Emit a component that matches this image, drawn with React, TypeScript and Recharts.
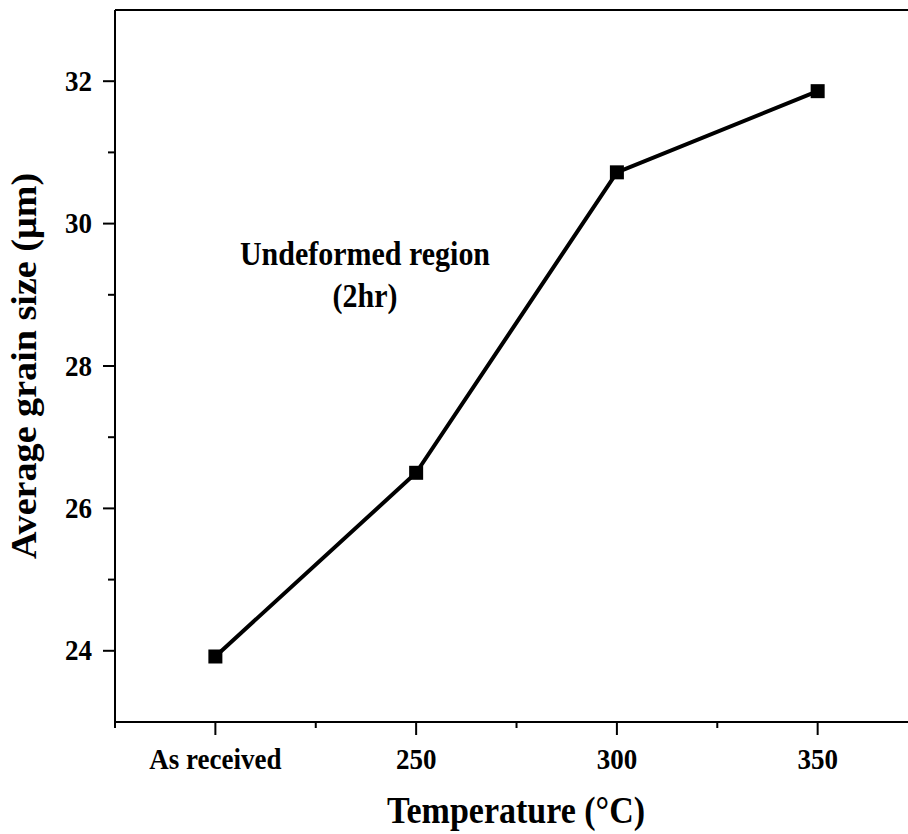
import React from 'react';
import { LineChart, Line, XAxis, YAxis, ReferenceLine, Customized } from 'recharts';

const categories = ['As received', '250', '300', '350'];
const grainSize = [23.92, 26.5, 30.72, 31.86];
const yMajorTicks = [24, 26, 28, 30, 32];
const yAllTicks = [24, 25, 26, 27, 28, 29, 30, 31, 32];
const xAllTicks = [-0.5, 0, 0.5, 1, 1.5, 2, 2.5, 3];
const annotationLines = ['Undeformed region', '(2hr)'];
const xTitle = 'Temperature (°C)';
const yTitle = 'Average grain size (μm)';

const data = categories.map((c, i) => ({ x: i, label: c, value: grainSize[i] }));

const FONT = '"Liberation Serif", "Times New Roman", serif';
const STRETCH = 1.09;

const SText = ({ x, y, size, anchor = 'middle', rotate = 0, children }: any) => (
  <text
    x={0}
    y={0}
    transform={`translate(${x},${y}) scale(1,${STRETCH})${rotate ? ` rotate(${rotate})` : ''}`}
    textAnchor={anchor}
    fontFamily={FONT}
    fontWeight="bold"
    fontSize={size}
    fill="#000"
  >
    {children}
  </text>
);

const XTick = (props: any) => {
  const { x, y, payload } = props;
  const v = payload.value;
  const isMajor = Number.isInteger(v);
  return (
    <g>
      <line x1={x} x2={x} y1={y} y2={y + (isMajor ? 13 : 6)} stroke="#000" strokeWidth={2} />
      {isMajor && v >= 0 && v < categories.length ? (
        <SText x={x} y={y + 47} size={27}>
          {categories[v]}
        </SText>
      ) : null}
    </g>
  );
};

const YTick = (props: any) => {
  const { x, y, payload } = props;
  const v = payload.value;
  const isMajor = yMajorTicks.includes(v);
  return (
    <g>
      <line x1={x - (isMajor ? 12 : 7)} x2={x} y1={y} y2={y} stroke="#000" strokeWidth={2} />
      {isMajor ? (
        <SText x={x - 23} y={y + 9.5} size={27} anchor="end">
          {v}
        </SText>
      ) : null}
    </g>
  );
};

const SquareDot = (props: any) => {
  const { cx, cy } = props;
  if (cx == null || cy == null) return null;
  return <rect x={cx - 7} y={cy - 7} width={14} height={14} fill="#000" />;
};

const Annotation = () => (
  <g>
    <SText x={365} y={265} size={30}>
      {annotationLines[0]}
    </SText>
    <SText x={365} y={307} size={30}>
      {annotationLines[1]}
    </SText>
    <SText x={516} y={823} size={34}>
      {xTitle}
    </SText>
    <text
      x={0}
      y={0}
      transform={`translate(36,366) scale(1,${STRETCH}) rotate(-90)`}
      textAnchor="middle"
      fontFamily={FONT}
      fontWeight="bold"
      fontSize={35}
      fill="#000"
    >
      {yTitle}
    </text>
  </g>
);

export default function App() {
  return (
    <div style={{ position: 'absolute', left: 0, top: 0, background: '#fff' }}>
      <LineChart width={908} height={834} data={data} margin={{ top: 10, right: 0, bottom: 0, left: 0 }}>
        <XAxis
          dataKey="x"
          type="number"
          domain={[-0.5, 3.45]}
          ticks={xAllTicks}
          allowDataOverflow
          height={112}
          tickSize={0}
          tickMargin={0}
          tickLine={false}
          axisLine={{ stroke: '#000', strokeWidth: 2 }}
          tick={<XTick />}
          interval={0}
        />
        <YAxis
          type="number"
          domain={[23, 33]}
          ticks={yAllTicks}
          allowDataOverflow
          width={115}
          tickSize={0}
          tickMargin={0}
          tickLine={false}
          axisLine={{ stroke: '#000', strokeWidth: 2 }}
          tick={<YTick />}
          interval={0}
        />
        <ReferenceLine y={33} stroke="#000" strokeWidth={2} />
        <Line
          type="linear"
          dataKey="value"
          stroke="#000"
          strokeWidth={4}
          dot={<SquareDot />}
          activeDot={false}
          isAnimationActive={false}
        />
        <Customized component={Annotation} />
      </LineChart>
    </div>
  );
}
